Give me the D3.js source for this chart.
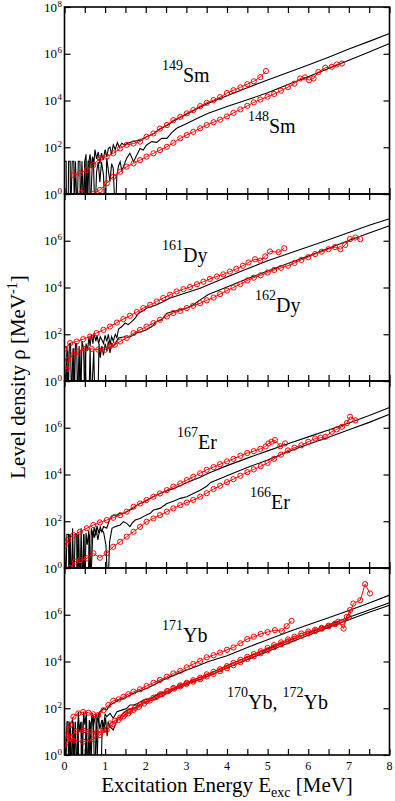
<!DOCTYPE html>
<html>
<head>
<meta charset="utf-8">
<title>Level densities</title>
<script src="https://cdn.jsdelivr.net/npm/d3@7"></script>
<style>
  body{margin:0;background:#fff;}
  svg{display:block;font-family:"Liberation Serif","Times New Roman",serif;}
  .frame{fill:none;stroke:#000;stroke-width:1.6;}
  .axis line{stroke:#000;stroke-width:1.2;}
  .axis path{display:none;}
  .theory{fill:none;stroke:#000;stroke-width:1.1;}
  .expline{fill:none;stroke:#f00;stroke-width:1;}
  .expdot{fill:none;stroke:#f00;stroke-width:1;}
</style>
</head>
<body>
<svg id="chart" width="395" height="801"></svg>
<script>
// pairs are [E (MeV), log10(rho / MeV^-1)]; -1 = empty bin (rho = 0)

// ---- Sm ----
var sm149Exp=[[0.22,0.81],[0.38,0.88],[0.55,1.03],[0.71,1.24],[0.87,1.53],[1.04,1.6],[1.2,1.74],[1.37,1.95],[1.53,2.1],[1.7,2.16],[1.86,2.24],[2.02,2.45],[2.19,2.59],[2.35,2.8],[2.52,2.95],[2.68,3.16],[2.85,3.3],[3.01,3.45],[3.17,3.59],[3.34,3.76],[3.5,3.9],[3.67,4.02],[3.83,4.14],[4.0,4.32],[4.16,4.44],[4.33,4.56],[4.5,4.7],[4.66,4.82],[4.82,5.0],[4.96,5.26]];
var sm148Exp=[[0.42,0.05],[0.58,-0.1],[0.71,0.0],[0.87,0.17],[1.04,0.46],[1.2,0.74],[1.37,0.95],[1.53,1.17],[1.7,1.31],[1.86,1.45],[2.02,1.6],[2.19,1.74],[2.35,1.88],[2.52,2.02],[2.68,2.19],[2.85,2.38],[3.01,2.52],[3.17,2.66],[3.34,2.81],[3.5,2.95],[3.67,3.07],[3.83,3.18],[4.0,3.32],[4.16,3.47],[4.33,3.62],[4.5,3.77],[4.66,3.92],[4.82,4.04],[5.0,4.16],[5.16,4.28],[5.33,4.42],[5.5,4.57],[5.66,4.72],[5.8,4.94],[5.92,4.99],[6.02,4.87],[6.13,4.94],[6.25,5.22],[6.42,5.4],[6.58,5.44],[6.7,5.54],[6.83,5.58]];
var sm149Calc=[[0,1.4],[0.04,1.4],[0.05,-1],[0.09,-1],[0.1,1.4],[0.14,1.4],[0.15,-1],[0.19,1.4],[0.23,1.4],[0.24,-1],[0.27,1.4],[0.31,-1],[0.34,1.4],[0.38,1.4],[0.39,-1],[0.43,1.4],[0.47,-1],[0.5,1.4],[0.53,1.7],[0.56,-1],[0.6,1.4],[0.63,1.7],[0.66,1.1],[0.69,1.6],[0.72,1.2],[0.75,1.9],[0.79,1.5],[0.83,1.8],[0.87,1.3],[0.91,1.75],[0.95,1.45],[1.0,1.9],[1.04,1.6],[1.08,1.95],[1.12,2.0],[1.16,1.7],[1.2,2.1],[1.25,1.9],[1.3,2.2],[1.35,2.0],[1.41,2.17],[1.47,2.1],[1.53,2.15],[1.6,2.2],[1.7,2.25],[1.86,2.3],[2.02,2.45],[2.19,2.58],[2.35,2.78],[2.52,2.93],[2.68,3.12],[2.85,3.27],[3.01,3.42],[3.17,3.56],[3.34,3.72],[3.54,3.88],[4.0,4.2],[4.5,4.55],[5.0,4.88],[5.5,5.2],[6.0,5.52],[6.5,5.85],[7.0,6.2],[7.5,6.53],[8.0,6.87]];
var sm148Calc=[[0.45,-1],[0.5,1.4],[0.54,-1],[0.58,1.4],[0.62,1.4],[0.63,-1],[0.68,1.1],[0.71,1.53],[0.75,-1],[0.79,0.95],[0.83,1.38],[0.87,0.5],[0.91,1.38],[0.96,0.81],[1.0,-1],[1.04,1.53],[1.08,1.0],[1.12,0.53],[1.16,1.3],[1.2,1.1],[1.25,-1],[1.29,0.81],[1.33,1.2],[1.37,1.38],[1.41,1.0],[1.45,1.17],[1.53,1.53],[1.61,1.74],[1.7,1.38],[1.78,1.67],[1.86,1.95],[1.94,1.88],[2.02,2.1],[2.15,2.24],[2.27,2.21],[2.39,2.38],[2.52,2.38],[2.64,2.63],[2.76,2.81],[3.01,3.02],[3.26,3.23],[3.54,3.45],[4.0,3.74],[4.5,4.03],[5.0,4.33],[5.5,4.68],[6.0,5.02],[6.5,5.37],[7.0,5.72],[7.5,6.07],[8.0,6.44]];

// ---- Dy ----
var dy161Exp=[[0,1.38],[0.14,1.62],[0.3,1.69],[0.46,1.79],[0.63,1.9],[0.79,2.05],[0.96,2.19],[1.12,2.33],[1.29,2.5],[1.45,2.65],[1.61,2.79],[1.78,2.95],[1.94,3.12],[2.11,3.26],[2.27,3.4],[2.43,3.55],[2.6,3.69],[2.76,3.83],[2.93,3.93],[3.09,4.02],[3.26,4.14],[3.42,4.25],[3.58,4.37],[3.75,4.47],[3.91,4.56],[4.07,4.68],[4.23,4.8],[4.39,4.93],[4.53,5.07],[4.69,5.21],[4.82,5.15],[4.94,5.33],[5.06,5.54],[5.27,5.51],[5.41,5.68]];
var dy162Exp=[[0.05,0.51],[0.09,0.91],[0.22,1.12],[0.34,1.26],[0.5,1.37],[0.67,1.37],[0.83,1.34],[1.0,1.34],[1.12,1.48],[1.24,1.55],[1.37,1.69],[1.53,1.84],[1.7,2.05],[1.86,2.19],[2.02,2.33],[2.19,2.48],[2.35,2.62],[2.52,2.76],[2.68,2.91],[2.85,3.0],[3.01,3.12],[3.17,3.22],[3.34,3.33],[3.5,3.45],[3.67,3.57],[3.83,3.72],[4.0,3.87],[4.16,4.0],[4.33,4.15],[4.5,4.3],[4.66,4.42],[4.83,4.52],[5.0,4.64],[5.16,4.75],[5.33,4.84],[5.5,4.93],[5.66,5.05],[5.83,5.18],[6.0,5.3],[6.17,5.43],[6.33,5.53],[6.5,5.64],[6.66,5.73],[6.79,5.64],[6.91,5.82],[7.03,6.07],[7.16,6.14],[7.28,6.07]];
var dy161Calc=[[0,1.3],[0.03,-1],[0.06,1.5],[0.09,-1],[0.12,1.6],[0.15,1.6],[0.17,-1],[0.21,1.4],[0.24,-1],[0.27,1.6],[0.3,1.6],[0.32,-1],[0.36,1.5],[0.4,-1],[0.43,1.7],[0.47,1.4],[0.5,-1],[0.53,1.6],[0.57,1.3],[0.6,1.9],[0.63,1.5],[0.66,2.0],[0.7,1.6],[0.73,2.05],[0.77,1.7],[0.8,1.95],[0.84,1.6],[0.88,1.9],[0.92,1.75],[0.96,1.6],[1.0,1.95],[1.04,1.7],[1.08,2.0],[1.12,1.55],[1.16,1.9],[1.2,1.7],[1.25,2.0],[1.29,1.85],[1.33,2.22],[1.41,2.33],[1.49,2.48],[1.57,2.41],[1.66,2.55],[1.74,2.69],[1.82,2.9],[1.94,3.02],[2.03,3.12],[2.15,3.19],[2.27,3.26],[2.44,3.4],[2.6,3.55],[2.85,3.69],[3.09,3.83],[3.34,3.97],[3.54,4.12],[4.0,4.45],[4.5,4.8],[5.0,5.14],[5.5,5.44],[6.0,5.74],[6.5,6.04],[7.0,6.35],[7.5,6.66],[8.0,6.94]];
var dy162Calc=[[0.05,-1],[0.08,1.3],[0.1,-1],[0.2,-1],[0.23,1.4],[0.26,-1],[0.35,-1],[0.38,1.3],[0.41,-1],[0.48,-1],[0.51,1.45],[0.54,-1],[0.6,-1],[0.63,1.4],[0.66,-1],[0.72,1.3],[0.75,-1],[0.82,-1],[0.85,1.6],[0.88,1.0],[0.92,1.5],[0.96,1.1],[1.0,1.6],[1.04,1.3],[1.08,1.7],[1.12,1.2],[1.16,1.6],[1.2,1.48],[1.33,1.84],[1.45,1.88],[1.61,1.88],[1.7,1.98],[1.78,2.05],[1.9,2.12],[2.02,2.19],[2.15,2.33],[2.27,2.55],[2.39,2.62],[2.52,2.9],[2.68,2.97],[2.85,3.05],[3.01,3.12],[3.17,3.26],[3.34,3.47],[3.54,3.7],[4.0,4.02],[4.5,4.37],[5.0,4.71],[5.5,5.03],[6.0,5.35],[6.5,5.68],[7.0,6.01],[7.5,6.33],[8.0,6.64]];

// ---- Er ----
var er167Exp=[[0,0.95],[0.09,1.2],[0.22,1.41],[0.38,1.55],[0.55,1.7],[0.71,1.84],[0.87,1.95],[1.04,2.05],[1.2,2.15],[1.37,2.26],[1.53,2.41],[1.7,2.62],[1.86,2.76],[2.02,2.91],[2.19,3.05],[2.35,3.19],[2.52,3.33],[2.68,3.48],[2.85,3.62],[3.01,3.76],[3.17,3.9],[3.34,4.05],[3.5,4.2],[3.67,4.32],[3.83,4.44],[4.0,4.56],[4.16,4.67],[4.33,4.8],[4.5,4.92],[4.66,5.0],[4.82,5.1],[4.95,5.2],[5.02,5.33],[5.1,5.4],[5.18,5.47],[5.31,5.21],[5.43,5.33]];
var er166Exp=[[0.14,0],[0.26,0.27],[0.38,0.34],[0.55,0.41],[0.71,0.63],[0.87,0.44],[1.04,0.63],[1.2,0.91],[1.37,1.12],[1.53,1.34],[1.7,1.55],[1.86,1.76],[2.02,1.98],[2.19,2.12],[2.35,2.26],[2.52,2.41],[2.68,2.55],[2.85,2.69],[3.01,2.8],[3.17,2.91],[3.34,3.05],[3.5,3.2],[3.67,3.38],[3.83,3.52],[4.0,3.67],[4.16,3.8],[4.33,3.95],[4.5,4.1],[4.66,4.22],[4.83,4.35],[5.0,4.5],[5.16,4.67],[5.33,4.85],[5.5,5.03],[5.66,5.15],[5.83,5.25],[6.0,5.4],[6.17,5.54],[6.3,5.58],[6.42,5.61],[6.58,5.83],[6.7,5.93],[6.83,6.04],[6.95,6.2],[7.03,6.47],[7.16,6.32]];
var er167Calc=[[0,1.44],[0.03,-1],[0.06,1.44],[0.1,1.44],[0.11,-1],[0.14,1.44],[0.17,-1],[0.2,1.7],[0.23,-1],[0.26,1.44],[0.3,1.44],[0.31,-1],[0.35,1.44],[0.38,-1],[0.41,1.7],[0.44,-1],[0.47,1.44],[0.5,-1],[0.53,1.5],[0.56,1.0],[0.6,1.6],[0.63,-1],[0.66,1.7],[0.7,1.3],[0.73,1.75],[0.77,1.4],[0.8,1.8],[0.84,1.5],[0.88,1.75],[0.92,1.55],[0.96,1.77],[1.04,1.7],[1.12,2.12],[1.2,2.26],[1.29,2.26],[1.37,2.34],[1.45,2.34],[1.53,2.41],[1.61,2.48],[1.7,2.55],[1.78,2.69],[1.86,2.76],[1.98,2.83],[2.11,2.98],[2.23,3.09],[2.35,3.19],[2.52,3.29],[2.68,3.4],[2.85,3.52],[3.01,3.66],[3.17,3.76],[3.34,3.88],[3.54,4.05],[4.0,4.38],[4.5,4.7],[5.0,5.01],[5.5,5.32],[6.0,5.61],[6.5,5.9],[7.0,6.2],[7.5,6.52],[8.0,6.87]];
var er166Calc=[[0.1,-1],[0.13,1.44],[0.16,-1],[0.3,-1],[0.33,1.44],[0.36,-1],[0.45,-1],[0.48,1.44],[0.5,-1],[0.58,-1],[0.61,1.44],[0.64,-1],[0.7,1.6],[0.74,1.3],[0.78,1.7],[0.82,1.2],[0.87,1.62],[0.96,1.55],[1.02,0.98],[1.07,-1],[1.11,1.12],[1.17,1.7],[1.25,1.77],[1.37,1.84],[1.45,1.98],[1.53,1.91],[1.61,1.77],[1.66,1.91],[1.74,2.05],[1.86,2.12],[1.98,2.24],[2.11,2.34],[2.19,2.48],[2.35,2.55],[2.52,2.76],[2.68,2.86],[2.85,2.98],[3.01,3.05],[3.17,3.19],[3.34,3.33],[3.5,3.5],[3.6,3.66],[4.0,3.95],[4.5,4.3],[5.0,4.62],[5.5,4.97],[6.0,5.29],[6.5,5.59],[7.0,5.91],[7.5,6.23],[8.0,6.58]];

// ---- Yb ----
var yb171Exp=[[0,0.43],[0.05,0.85],[0.14,1.28],[0.22,1.64],[0.34,1.78],[0.46,1.84],[0.59,1.81],[0.71,1.74],[0.83,1.71],[0.96,1.92],[1.08,2.14],[1.2,2.32],[1.33,2.38],[1.45,2.49],[1.57,2.6],[1.7,2.71],[1.86,2.81],[2.02,2.95],[2.19,3.09],[2.35,3.21],[2.52,3.35],[2.68,3.49],[2.85,3.6],[3.01,3.75],[3.17,3.89],[3.34,4.03],[3.5,4.18],[3.67,4.27],[3.83,4.38],[4.0,4.5],[4.16,4.6],[4.33,4.78],[4.5,4.96],[4.66,5.06],[4.83,5.18],[5.0,5.26],[5.18,5.34],[5.35,5.3],[5.47,5.51],[5.59,5.74]];
var yb170Exp=[[0,0.43],[0.14,0.78],[0.3,1.0],[0.46,1.05],[0.6,1.0],[0.79,0.95],[0.96,1.07],[1.12,1.35],[1.24,1.47],[1.37,1.6],[1.49,1.74],[1.61,1.88],[1.74,2.02],[1.86,2.16],[2.02,2.3],[2.19,2.45],[2.35,2.59],[2.52,2.73],[2.68,2.87],[2.85,2.98],[3.01,3.09],[3.17,3.2],[3.34,3.31],[3.5,3.45],[3.67,3.56],[3.83,3.67],[4.0,3.8],[4.16,3.94],[4.33,4.07],[4.5,4.2],[4.66,4.32],[4.83,4.44],[5.0,4.58],[5.16,4.7],[5.33,4.82],[5.5,4.94],[5.66,5.06],[5.83,5.2],[6.0,5.28],[6.17,5.36],[6.33,5.44],[6.5,5.53],[6.66,5.62],[6.74,5.7],[6.87,5.41],[6.95,5.91],[7.03,6.2]];
var yb172Exp=[[0.05,0.64],[0.22,0.61],[0.46,0.57],[0.71,0.67],[0.87,0.85],[1.04,1.07],[1.2,1.32],[1.33,1.5],[1.45,1.65],[1.57,1.78],[1.7,1.93],[1.83,2.06],[1.96,2.2],[2.1,2.33],[2.25,2.47],[2.4,2.6],[2.55,2.73],[2.7,2.84],[2.85,2.94],[3.0,3.04],[3.17,3.14],[3.34,3.24],[3.5,3.36],[3.67,3.47],[3.83,3.59],[4.0,3.71],[4.16,3.84],[4.33,3.97],[4.5,4.11],[4.66,4.22],[4.83,4.35],[5.0,4.48],[5.16,4.61],[5.33,4.73],[5.5,4.86],[5.66,4.98],[5.83,5.1],[6.0,5.2],[6.17,5.3],[6.33,5.4],[6.5,5.5],[6.66,5.6],[6.83,5.68],[7.0,5.9],[7.11,6.48],[7.28,6.62],[7.4,7.31],[7.52,6.91]];
var yb171Calc=[[0,1.42],[0.03,-1],[0.06,1.42],[0.09,1.42],[0.1,-1],[0.14,1.42],[0.17,-1],[0.2,1.6],[0.23,-1],[0.27,1.42],[0.3,-1],[0.34,1.85],[0.37,1.0],[0.4,1.42],[0.43,-1],[0.47,1.85],[0.5,1.3],[0.54,1.85],[0.57,-1],[0.61,1.5],[0.64,1.0],[0.68,1.8],[0.71,1.2],[0.75,1.6],[0.79,1.7],[0.83,1.4],[0.87,1.85],[0.96,1.99],[1.04,1.92],[1.12,2.14],[1.2,2.21],[1.33,2.35],[1.45,2.42],[1.57,2.52],[1.7,2.64],[1.86,2.75],[2.02,2.85],[2.19,2.99],[2.35,3.14],[2.52,3.28],[2.76,3.46],[3.01,3.64],[3.26,3.8],[3.54,4.0],[4.0,4.25],[4.5,4.6],[5.0,4.93],[5.5,5.26],[6.0,5.57],[6.5,5.87],[7.0,6.18],[7.5,6.5],[8.0,6.84]];
var yb170Calc=[[0.1,-1],[0.13,1.42],[0.16,-1],[0.3,-1],[0.33,1.42],[0.36,-1],[0.5,-1],[0.53,1.6],[0.56,-1],[0.65,-1],[0.68,1.42],[0.71,1.7],[0.74,-1],[0.8,-1],[0.83,1.8],[0.87,1.1],[0.92,1.5],[0.96,1.2],[1.0,1.75],[1.04,1.64],[1.12,1.78],[1.2,1.57],[1.29,1.85],[1.41,1.92],[1.53,1.99],[1.61,2.14],[1.7,2.14],[1.82,2.21],[1.94,2.35],[2.07,2.38],[2.19,2.49],[2.35,2.64],[2.52,2.71],[2.68,2.85],[2.85,2.99],[3.01,3.09],[3.17,3.21],[3.34,3.32],[3.54,3.45],[4.0,3.83],[4.5,4.18],[5.0,4.54],[5.5,4.88],[6.0,5.22],[6.5,5.56],[7.0,5.89],[7.5,6.2],[8.0,6.51]];
var yb172Calc=[[0.2,-1],[0.23,1.42],[0.26,-1],[0.4,-1],[0.43,1.42],[0.46,-1],[0.6,-1],[0.63,1.42],[0.66,-1],[0.75,-1],[0.78,1.6],[0.82,-1],[0.9,-1],[0.93,1.5],[0.97,1.0],[1.01,1.6],[1.05,0.8],[1.08,1.4],[1.12,1.21],[1.2,1.07],[1.29,1.49],[1.37,1.64],[1.45,1.78],[1.53,1.92],[1.66,1.99],[1.78,2.06],[1.94,2.24],[2.11,2.32],[2.27,2.42],[2.43,2.56],[2.6,2.71],[2.76,2.85],[2.93,2.95],[3.17,3.14],[3.34,3.23],[3.54,3.38],[4.0,3.73],[4.5,4.08],[5.0,4.43],[5.5,4.78],[6.0,5.12],[6.5,5.46],[7.0,5.79],[7.5,6.11],[8.0,6.41]];

var xTickValues=[0,0.5,1,1.5,2,2.5,3,3.5,4,4.5,5,5.5,6,6.5,7,7.5,8];
var xTickLabels=["0","1","2","3","4","5","6","7","8"];
var yExponents=[0,2,4,6,8];

// one entry per panel: curves, data and the isotope labels
var panels=[
  {calc:[sm149Calc,sm148Calc], exp:[sm149Exp,sm148Exp],
   labels:[{x:162,y:82,parts:[["149","Sm"]]},{x:248,y:133,parts:[["148","Sm"]]}]},
  {calc:[dy161Calc,dy162Calc], exp:[dy161Exp,dy162Exp],
   labels:[{x:162,y:262,parts:[["161","Dy"]]},{x:255,y:312,parts:[["162","Dy"]]}]},
  {calc:[er167Calc,er166Calc], exp:[er167Exp,er166Exp],
   labels:[{x:177,y:449,parts:[["167","Er"]]},{x:250,y:509,parts:[["166","Er"]]}]},
  {calc:[yb171Calc,yb170Calc,yb172Calc], exp:[yb171Exp,yb170Exp,yb172Exp],
   labels:[{x:162,y:642,parts:[["171","Yb"]]},{x:227,y:709,parts:[["170","Yb, "],["172","Yb"]]}]}
];

var left=64.5, right=389.5, top0=7, ph=187;
var svg=d3.select("#chart");
var x=d3.scaleLinear().domain([0,8]).range([left,right]);

panels.forEach(function(p,i){
  var t=top0+i*ph, b=t+ph;
  var y=d3.scaleLog().domain([1,1e8]).range([b,t]);
  var g=svg.append("g");

  svg.append("clipPath").attr("id","clip"+i)
    .append("rect").attr("x",left).attr("y",t).attr("width",right-left).attr("height",ph);

  var line=d3.line().x(function(d){return x(d[0]);}).y(function(d){return y(Math.pow(10,d[1]));});
  var plot=g.append("g").attr("clip-path","url(#clip"+i+")");

  plot.selectAll(".theory").data(p.calc).enter().append("path")
    .attr("class","theory").attr("d",line);

  p.exp.forEach(function(s){
    plot.append("path").attr("class","expline").attr("d",line(s));
    plot.selectAll(null).data(s).enter().append("circle")
      .attr("class","expdot").attr("r",2.6)
      .attr("cx",function(d){return x(d[0]);})
      .attr("cy",function(d){return y(Math.pow(10,d[1]));});
  });

  var yTicks=yExponents.map(function(e){return Math.pow(10,e);});
  g.append("g").attr("class","axis").attr("transform","translate("+left+",0)")
    .call(d3.axisLeft(y).tickValues(yTicks).tickSizeInner(-6).tickSizeOuter(0).tickFormat(""));
  g.append("g").attr("class","axis").attr("transform","translate("+right+",0)")
    .call(d3.axisRight(y).tickValues(yTicks).tickSizeInner(-6).tickSizeOuter(0).tickFormat(""));
  g.append("g").attr("class","axis").attr("transform","translate(0,"+b+")")
    .call(d3.axisBottom(x).tickValues(xTickValues).tickSizeInner(-6).tickSizeOuter(0).tickFormat(""));
  g.append("g").attr("class","axis").attr("transform","translate(0,"+t+")")
    .call(d3.axisTop(x).tickValues(xTickValues).tickSizeInner(-6).tickSizeOuter(0).tickFormat(""));

  g.append("rect").attr("class","frame").attr("x",left).attr("y",t).attr("width",right-left).attr("height",ph);

  // y tick labels 10^n (top label only on the first panel)
  yExponents.forEach(function(e){
    if(i>0 && e===8) return;
    var yy=y(Math.pow(10,e));
    var tx=g.append("text").attr("x",57).attr("y",yy+4.5).attr("text-anchor","end")
      .attr("font-size",13).text("10");
    g.append("text").attr("x",57.5).attr("y",yy-0.5).attr("font-size",9).text(e);
  });

  // isotope labels
  p.labels.forEach(function(l){
    var tx=g.append("text").attr("x",l.x).attr("y",l.y);
    l.parts.forEach(function(pt,k){
      tx.append("tspan").attr("font-size",14).attr("dy",-12).text(pt[0]);
      tx.append("tspan").attr("font-size",20).attr("dy",12).text(pt[1]);
    });
  });

  if(i===panels.length-1){
    svg.selectAll(".xlab").data(xTickLabels).enter().append("text")
      .attr("class","xlab")
      .attr("x",function(d){return x(+d);}).attr("y",b+15)
      .attr("text-anchor","middle").attr("font-size",12).text(function(d){return d;});
  }
});

// axis titles
var xt=svg.append("text").attr("x",(left+right)/2).attr("y",792).attr("text-anchor","middle").attr("font-size",21);
xt.append("tspan").text("Excitation Energy E");
xt.append("tspan").attr("font-size",14).attr("dy",5).text("exc");
xt.append("tspan").attr("dy",-5).text(" [MeV]");

var yt=svg.append("text").attr("transform","translate(25,377) rotate(-90)").attr("text-anchor","middle").attr("font-size",21);
yt.append("tspan").text("Level density \u03c1 [MeV");
yt.append("tspan").attr("font-size",14).attr("dy",-8).text("-1");
yt.append("tspan").attr("dy",8).text("]");
</script>
</body>
</html>
